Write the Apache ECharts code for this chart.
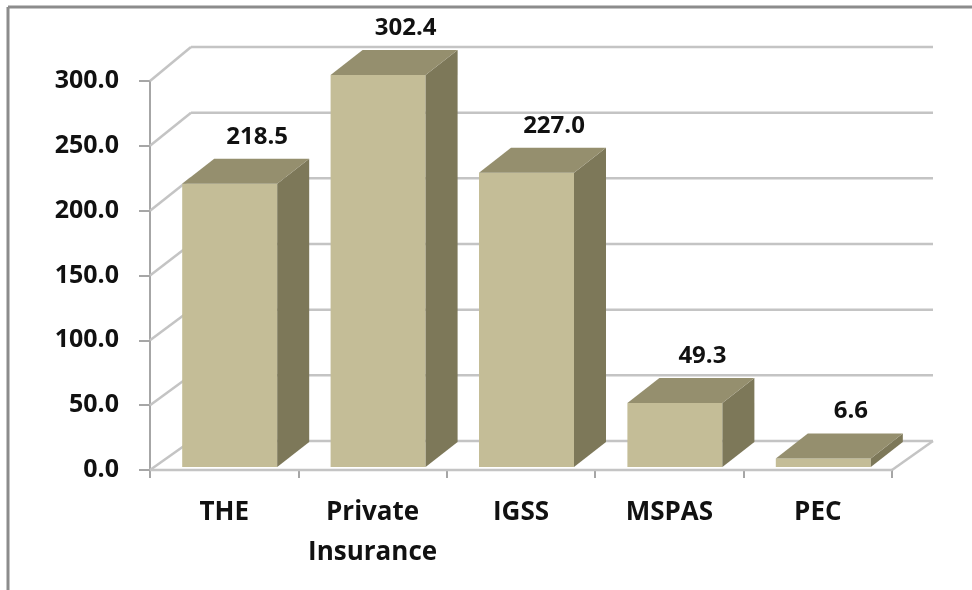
<!DOCTYPE html>
<html>
<head>
<meta charset="utf-8">
<script src="https://cdn.jsdelivr.net/npm/echarts@6/dist/echarts.min.js"></script>
<style>html,body{margin:0;padding:0;background:#fff;}#c{width:972px;height:590px;}</style>
</head>
<body>
<div id="c"></div>
<script>
const categories = ['THE', 'Private\nInsurance', 'IGSS', 'MSPAS', 'PEC'];
const values = [218.5, 302.4, 227.0, 49.3, 6.6];
const valueLabels = ['218.5', '302.4', '227.0', '49.3', '6.6'];
const yTicks = [0, 50, 100, 150, 200, 250, 300];

const FONT = '"Open Sans", sans-serif';
const chart = echarts.init(document.getElementById('c'), null, {renderer: 'canvas'});

function wallDy(v) { return -29 - v / 60; }
const WALL_DX = 41;

const option = {
  animation: false,
  backgroundColor: '#ffffff',
  grid: {left: 150, right: 80, top: 81, bottom: 120},
  xAxis: {
    type: 'category',
    data: categories,
    axisLine: {show: true, lineStyle: {color: '#a6a6a6', width: 2}},
    axisTick: {show: true, interval: 0, length: 8, lineStyle: {color: '#a6a6a6', width: 2}},
    axisLabel: {interval: 0, color: '#111', fontFamily: FONT, fontWeight: 'bold', fontSize: 26, margin: 23, lineHeight: 40},
    splitLine: {show: false}
  },
  yAxis: {
    type: 'value',
    min: 0, max: 300, interval: 50,
    axisLine: {show: true, lineStyle: {color: '#a6a6a6', width: 2}},
    axisTick: {show: true, length: 11, lineStyle: {color: '#a6a6a6', width: 2}},
    axisLabel: {color: '#111', fontFamily: FONT, fontWeight: 'bold', fontSize: 25, margin: 31,
      formatter: v => v.toFixed(1)},
    splitLine: {show: false}
  },
  graphic: [
    {type: 'line', shape: {x1: 8, y1: 7, x2: 972, y2: 7}, style: {stroke: '#8c8c8c', lineWidth: 3}, z: 100},
    {type: 'line', shape: {x1: 8, y1: 7, x2: 8, y2: 590}, style: {stroke: '#8c8c8c', lineWidth: 3}, z: 100}
  ],
  series: [
    {
      type: 'custom',
      silent: true,
      z: 1,
      data: yTicks.map(v => [0, v]),
      renderItem: function (params, api) {
        const cs = params.coordSys;
        const v = api.value(1);
        const p = api.coord([0, v]);
        const y = p[1];
        const dy = wallDy(v);
        const x0 = cs.x, x1 = cs.x + cs.width;
        const st = {stroke: '#c4c4c4', lineWidth: 2.5, fill: null};
        const children = [
          {type: 'line', shape: {x1: x0, y1: y, x2: x0 + WALL_DX, y2: y + dy}, style: st},
          {type: 'line', shape: {x1: x0 + WALL_DX, y1: y + dy, x2: x1 + WALL_DX, y2: y + dy}, style: st}
        ];
        if (v === 0) {
          children.push({type: 'line', shape: {x1: x1, y1: y, x2: x1 + WALL_DX, y2: y + dy}, style: st});
          children.push({type: 'line', shape: {x1: x0, y1: y, x2: x1, y2: y}, style: st});
        }
        return {type: 'group', children: children};
      }
    },
    {
      type: 'custom',
      z: 5,
      data: values.map((v, i) => [i, v]),
      renderItem: function (params, api) {
        const idx = api.value(0);
        const c = api.coord([idx, api.value(1)]);
        const b = api.coord([idx, 0]);
        const off = -3;
        const x0 = c[0] - 42, x1 = c[0] + 53;
        const yT = c[1] + off, yB = b[1] + off;
        const dx = 32, dy = -25;
        return {
          type: 'group',
          children: [
            {type: 'rect', shape: {x: x0, y: yT, width: x1 - x0, height: yB - yT},
              style: {fill: '#c4bd97'}},
            {type: 'polygon', shape: {points: [[x1, yB], [x1, yT], [x1 + dx, yT + dy], [x1 + dx, yB + dy]]},
              style: {fill: '#7d7859'}},
            {type: 'polygon', shape: {points: [[x0, yT], [x1, yT], [x1 + dx, yT + dy], [x0 + dx, yT + dy]]},
              style: {fill: '#958f6e'}},
            {type: 'text', style: {text: valueLabels[idx], x: c[0] + 33, y: yT - 47,
              align: 'center', verticalAlign: 'middle', fill: '#111',
              font: 'bold 24px ' + FONT}}
          ]
        };
      }
    }
  ]
};
chart.setOption(option);
</script>
</body>
</html>
